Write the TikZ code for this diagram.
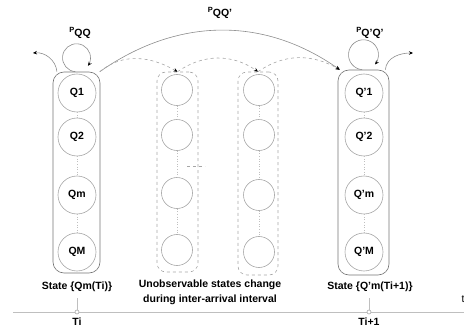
\documentclass[tikz,border=0pt]{standalone}
\usepackage{fontspec}
\setmainfont{Liberation Sans}
\usetikzlibrary{shapes,arrows.meta}
\tikzstyle{obs}=[rectangle,draw=black!55,rounded corners=11pt,minimum width=47pt,minimum height=201pt,inner sep=0pt]
\tikzstyle{hid}=[rectangle,draw=black!35,dashed,rounded corners=9pt,minimum width=41pt,minimum height=200pt,inner sep=0pt]
\tikzstyle{nd}=[circle,draw=black!35,minimum size=38pt,inner sep=0pt,font=\fontsize{10.5}{12}\bfseries]
\tikzstyle{hnd}=[circle,draw=black!35,minimum size=31pt,inner sep=0pt]
\tikzstyle{lnk}=[draw=black!25,dotted]
\tikzstyle{arr}=[draw=black!45,-{Stealth[length=4pt,width=3.5pt,color=black]}]
\tikzstyle{darr}=[arr,draw=black!35,dashed]
\tikzstyle{axis}=[draw=black!25]
\tikzstyle{tck}=[circle,draw=black!35,fill=white,minimum size=4pt,inner sep=0pt]
\tikzstyle{lbl}=[font=\fontsize{10.5}{15}\bfseries,inner sep=0pt]
\newcommand{\ptr}[1]{\raisebox{4pt}{\fontsize{7.5}{8}\selectfont P}#1}

\begin{document}
\begin{tikzpicture}[x=1pt,y=1pt,line width=0.6pt]
\useasboundingbox (0,0) rectangle (464,330);
% observed states at Ti
\node[obs] (L) at (76.5,157.5) {};
\node[nd] (q1) at (77,237) {Q1};
\node[nd] (q2) at (77,193) {Q2};
\node[nd] (qm) at (77,135) {Qm};
\node[nd] (qM) at (77,78) {QM};
\draw[lnk] (q1) -- (q2);
\draw[lnk] (q2) -- (qm);
\draw[lnk] (qm) -- (qM);
% hidden columns
\node[hid] (H1) at (177.5,158) {};
\node[hnd] (h1a) at (177,240) {};
\node[hnd] (h1b) at (177,195) {};
\node[hnd] (h1c) at (177,137) {};
\node[hnd] (h1d) at (177,80) {};
\draw[lnk] (h1a) -- (h1b);
\draw[lnk] (h1b) -- (h1c);
\draw[lnk] (h1c) -- (h1d);
\node[hid,minimum width=40pt,minimum height=203pt] (H2) at (258,156.5) {};
\node[hnd] (h2a) at (259,240) {};
\node[hnd] (h2b) at (259,195) {};
\node[hnd] (h2c) at (259,135) {};
\node[hnd] (h2d) at (259,78) {};
\draw[lnk] (h2a) -- (h2b);
\draw[lnk] (h2b) -- (h2c);
\draw[lnk] (h2c) -- (h2d);
\draw[dashed,draw=black!35] (187,164) -- (205,164);
% observed states at Ti+1
\node[obs,minimum width=51pt,minimum height=205pt] (R) at (363.5,157.5) {};
\node[nd] (r1) at (364,237) {Q'1};
\node[nd] (r2) at (364,193) {Q'2};
\node[nd] (rm) at (364,135) {Q'm};
\node[nd] (rM) at (364,78) {Q'M};
\draw[lnk] (r1) -- (r2);
\draw[lnk] (r2) -- (rm);
\draw[lnk] (rm) -- (rM);
% transitions
\coordinate (lout) at (33,277);
\coordinate (rout) at (413,277);
\draw[arr] (L.north) ++(-1.2,0) arc[start angle=265,end angle=-35,radius=14];
\draw[arr] (R.north) ++(-1.3,0) arc[start angle=265,end angle=-40,radius=15];
\draw[arr] (L.101) to[out=95,in=5] (lout);
\draw[arr] (R.78) to[out=85,in=180] (rout);
\draw[arr] (L.77) to[out=35,in=145] (R.103);
\draw[darr] (L.77) to[out=40,in=150] (H1.north);
\draw[darr] (H1.north) to[out=35,in=145] (H2.north);
\draw[darr] (H2.north) to[out=35,in=150] (R.103);
\node[lbl] (pl) at (80,297) {\ptr{QQ}};
\node[lbl] (pc) at (220,317) {\ptr{QQ'}};
\node[lbl] (pr) at (370,297) {\ptr{Q'Q'}};
% time axis
\coordinate (a0) at (13,18);
\coordinate (a1) at (464,18);
\draw[axis] (a0) -- (a1);
\coordinate (k1top) at (77,32);
\coordinate (k2top) at (369,32);
\node[tck] (k1) at (77,18) {};
\node[tck] (k2) at (369,18) {};
\draw[axis] (k1) -- (k1top);
\draw[axis] (k2) -- (k2top);
\node[lbl] (sl) at (77,43) {State \{Qm(Ti)\}};
\node[lbl] (sr) at (370,43) {State \{Q'm(Ti+1)\}};
\node[lbl,align=center] (un) at (210,37.5) {Unobservable states change\\during inter-arrival interval};
\node[lbl] (ti) at (77,8) {Ti};
\node[lbl] (tj) at (369,8) {Ti+1};
\node[font=\fontsize{10.5}{12}\selectfont,inner sep=0pt] (tt) at (463,31) {t};
\end{tikzpicture}
\end{document}
